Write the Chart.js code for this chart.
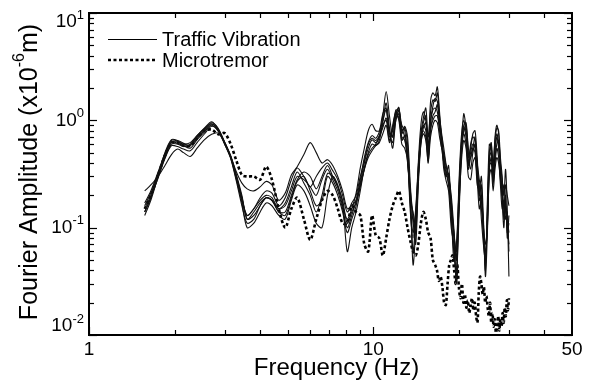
<!DOCTYPE html>
<html>
<head>
<meta charset="utf-8">
<title>Fourier Amplitude</title>
<script src="https://cdn.jsdelivr.net/npm/chart.js@4"></script>
<style>
  body { margin: 0; background: #fff; }
  canvas { display: block; }
</style>
</head>
<body>
<canvas id="chart" width="590" height="385"></canvas>
<script>
// 频率 (Hz) - Traffic Vibration
const freq = [
  1.57, 1.65, 1.75, 1.85, 1.95, 2.05, 2.15, 2.27, 2.4, 2.55,
  2.7, 2.85, 3.0, 3.15, 3.3, 3.45, 3.6, 3.8, 4.0, 4.2,
  4.4, 4.65, 4.9, 5.15, 5.4, 5.7, 6.0, 6.3, 6.6, 6.9,
  7.2, 7.5, 7.8, 8.1, 8.4, 8.7, 9.0, 9.3, 9.6, 9.9,
  10.2, 10.5, 10.8, 11.1, 11.4, 11.7, 12.0, 12.3, 12.6, 12.9,
  13.2, 13.5, 13.8, 14.1, 14.4, 14.7, 15.0, 15.3, 15.6, 15.9,
  16.2, 16.5, 16.8, 17.1, 17.4, 17.7, 18.0, 18.4, 18.8, 19.2,
  19.6, 20.0, 20.4, 20.8, 21.2, 21.6, 22.0, 22.4, 22.8, 23.2,
  23.6, 24.0, 24.4, 24.8, 25.2, 25.6, 26.0, 26.4, 26.8, 27.2,
  27.6, 28.0, 28.4, 28.8, 29.2, 29.6, 30.0
];

// 频率 (Hz) - Microtremor (高频部分更密)
const microFreq = [
  1.57, 1.65, 1.75, 1.85, 1.95, 2.05, 2.15, 2.27, 2.4, 2.55,
  2.7, 2.85, 3.0, 3.15, 3.3, 3.45, 3.6, 3.8, 4.0, 4.2,
  4.4, 4.65, 4.9, 5.15, 5.4, 5.7, 6.0, 6.3, 6.6, 6.9,
  7.2, 7.5, 7.8, 8.1, 8.4, 8.7, 9.0, 9.3, 9.6, 9.9,
  10.2, 10.5, 10.8, 11.1, 11.4, 11.7, 12.0, 12.3, 12.6, 12.9,
  13.2, 13.5, 13.8, 14.1, 14.4, 14.7, 15.0, 15.3, 15.6, 15.9,
  16.2, 16.5, 16.75, 17.0, 17.25, 17.5, 17.75, 18.0, 18.25, 18.5,
  18.75, 19.0, 19.25, 19.5, 19.75, 20.0, 20.25, 20.5, 20.75, 21.0,
  21.25, 21.5, 21.75, 22.0, 22.25, 22.5, 22.75, 23.0, 23.25, 23.5,
  23.75, 24.0, 24.25, 24.5, 24.75, 25.0, 25.25, 25.5, 25.75, 26.0,
  26.25, 26.5, 26.75, 27.0, 27.25, 27.5, 27.75, 28.0, 28.25, 28.5,
  28.75, 29.0, 29.25, 29.5, 29.75, 30.0
];

// Traffic Vibration 各次记录 (x10^-6 m)
const traffic1 = [
  .13, .18, .30, .48, .65, .64, .59, .60, .72, .85,
  .97, .82, .60, .44, .27, .16, .11, .12, .16, .19,
  .18, .14, .13, .19, .27, .30, .22, .16, .18, .30,
  .26, .20, .14, .09, .12, .16, .26, .40, .55, .66,
  .62, .70, 1.10, 1.85, 1.10, .70, 1.15, 1.30, .80, .85,
  .60, .20, .045, .10, .40, .90, 1.20, 1.00, .55, 1.50,
  1.80, 1.70, 2.05, 1.20, .65, .45, .30, .38, .15, .08,
  .03, .18, .55, 1.15, .85, .45, .55, .75, .80, .45,
  .22, .30, .12, .05, .12, .50, .62, .35, .70, .90,
  .75, .40, .28, .20, .35, .15, .035
];
const traffic2 = [
  .14, .19, .31, .50, .66, .65, .61, .58, .68, .82,
  .95, .84, .62, .45, .28, .17, .10, .11, .14, .17,
  .16, .13, .12, .18, .25, .22, .16, .11, .10, .20,
  .30, .25, .17, .06, .10, .14, .22, .36, .50, .60,
  .58, .65, .95, 1.45, .85, .55, 1.00, 1.25, .90, .80,
  .45, .14, .08, .14, .35, .75, 1.05, 1.30, .70, 1.20,
  1.55, 1.50, 1.80, 1.10, .75, .55, .40, .30, .20, .10,
  .05, .25, .70, 1.00, .75, .40, .60, .70, .65, .40,
  .28, .20, .10, .04, .18, .60, .55, .40, .65, .85,
  .80, .45, .30, .15, .25, .20, .16
];
const traffic3 = [
  .15, .20, .32, .47, .62, .63, .60, .62, .72, .84,
  .93, .80, .61, .46, .30, .19, .12, .14, .17, .19,
  .18, .15, .16, .22, .30, .28, .24, .20, .28, .35,
  .28, .22, .15, .10, .13, .18, .28, .45, .62, .72,
  .68, .78, 1.00, 1.25, .80, .70, 1.10, 1.32, .75, .88,
  .70, .25, .11, .09, .28, .70, .95, 1.10, .50, 1.00,
  1.35, 1.60, 1.50, 1.00, .70, .40, .33, .25, .12, .06,
  .04, .15, .50, .90, .95, .55, .45, .55, .70, .35,
  .20, .25, .08, .06, .10, .40, .60, .28, .55, .75,
  .60, .35, .20, .25, .18, .12, .09
];
const traffic4 = [
  .16, .21, .30, .45, .60, .60, .57, .59, .70, .80,
  .90, .79, .60, .45, .29, .18, .13, .15, .18, .20,
  .19, .15, .17, .24, .33, .26, .20, .14, .20, .32,
  .30, .24, .16, .12, .15, .21, .36, .55, .80, .92,
  .80, .80, 1.15, 1.30, .70, .80, 1.25, 1.20, .65, .72,
  .50, .18, .06, .12, .30, .65, .90, .80, .45, .95,
  1.25, 1.30, 1.20, .80, .55, .50, .38, .30, .18, .09,
  .06, .22, .60, .85, .70, .38, .50, .60, .55, .30,
  .25, .15, .09, .045, .15, .45, .50, .32, .50, .70,
  .55, .30, .22, .12, .15, .10, .07
];
const traffic5 = [
  .17, .22, .33, .49, .63, .61, .58, .55, .66, .78,
  .92, .82, .63, .47, .31, .20, .12, .13, .16, .19,
  .18, .14, .14, .20, .28, .33, .30, .23, .30, .38,
  .30, .24, .18, .11, .14, .17, .24, .35, .48, .55,
  .60, .70, .85, 1.05, .75, .62, 1.00, 1.15, .85, .70,
  .40, .22, .13, .07, .25, .60, .85, .95, .60, .80,
  1.10, 1.20, 1.40, .90, .60, .35, .28, .22, .10, .07,
  .035, .12, .45, .80, .90, .50, .35, .50, .60, .38,
  .18, .20, .11, .035, .09, .35, .45, .25, .45, .60,
  .65, .38, .18, .10, .20, .08, .13
];
const traffic6 = [
  .14, .19, .29, .44, .58, .57, .54, .52, .62, .75,
  .88, .80, .62, .46, .30, .19, .13, .15, .19, .22,
  .21, .16, .19, .28, .36, .30, .24, .30, .36, .40,
  .34, .28, .20, .14, .17, .20, .30, .42, .60, .68,
  .65, .72, .90, 1.00, .65, .90, 1.20, 1.05, .70, .65,
  .45, .16, .09, .15, .38, .70, .80, .70, .40, .85,
  1.00, 1.10, 1.10, .85, .70, .45, .35, .26, .14, .05,
  .07, .20, .55, .75, .60, .35, .45, .55, .50, .25,
  .22, .12, .07, .05, .13, .38, .40, .30, .40, .55,
  .45, .25, .15, .18, .12, .14, .06
];
const traffic7 = [
  .22, .25, .30, .38, .48, .54, .50, .46, .55, .66,
  .74, .76, .62, .46, .33, .26, .23, .22, .24, .27,
  .25, .18, .21, .31, .37, .48, .62, .50, .40, .43,
  .38, .30, .22, .15, .16, .18, .25, .35, .45, .52,
  .58, .62, .75, .90, .62, .85, 1.15, 1.00, .60, .55,
  .42, .18, .14, .10, .30, .60, .75, .65, .42, .70,
  .90, 1.00, .95, .70, .55, .40, .30, .32, .16, .09,
  .05, .15, .40, .65, .55, .30, .28, .40, .45, .28,
  .15, .18, .10, .07, .11, .30, .35, .22, .35, .45,
  .40, .28, .20, .13, .16, .09, .11
];

// Microtremor
const microtremor = [
  .15, .20, .31, .47, .62, .62, .58, .58, .68, .80,
  .82, .74, .76, .60, .42, .31, .30, .30, .28, .37,
  .28, .15, .10, .15, .19, .12, .077, .12, .18, .22,
  .20, .15, .11, .11, .16, .14, .13, .07, .06, .13,
  .085, .08, .055, .08, .12, .16, .19, .22, .17, .14,
  .10, .075, .06, .055, .07, .11, .14, .12, .09, .08,
  .05, .045, .04, .032, .035, .028, .02, .019, .03, .045,
  .05, .055, .04, .03, .045, .028, .022, .03, .02, .024,
  .018, .021, .016, .019, .022, .017, .02, .015, .013, .025,
  .035, .03, .024, .028, .02, .023, .018, .015, .02, .013,
  .016, .012, .014, .0105, .012, .015, .011, .014, .012, .016,
  .013, .018, .015, .021, .017, .022
];

const trafficRuns = [traffic1, traffic2, traffic3, traffic4, traffic5, traffic6, traffic7];

// 刻度
const xMajor = [1, 10];
const xMinor = [2, 3, 4, 5, 6, 7, 8, 9, 20, 30, 40];
const xLabels = [1, 10, 50];
const yMajor = [0.01, 0.1, 1, 10];
const yMinor = [
  0.02, 0.03, 0.04, 0.05, 0.06, 0.07, 0.08, 0.09,
  0.2, 0.3, 0.4, 0.5, 0.6, 0.7, 0.8, 0.9,
  2, 3, 4, 5, 6, 7, 8, 9
];
const yExponents = [-2, -1, 0, 1];

const FONT = '"Liberation Sans", Arial, Helvetica, sans-serif';

function toPoints(xs, values) {
  return xs.map((f, i) => ({ x: f, y: values[i] }));
}

const datasets = [];
datasets.push({
  label: 'Microtremor',
  data: toPoints(microFreq, microtremor),
  borderColor: '#000',
  borderWidth: 2.6,
  borderDash: [3, 2.5],
  pointRadius: 0,
  tension: 0.3,
  order: 2
});
trafficRuns.forEach((run, i) => {
  datasets.push({
    label: i === 0 ? 'Traffic Vibration' : 'Traffic Vibration ' + (i + 1),
    data: toPoints(freq, run),
    borderColor: '#111',
    borderWidth: 1.1,
    pointRadius: 0,
    tension: 0.3,
    order: 1
  });
});

// 画框、向内刻度、标签、图例和坐标轴标题
const framePlugin = {
  id: 'framePlugin',
  afterDraw(chart) {
    const ctx = chart.ctx;
    const a = chart.chartArea;
    const x = chart.scales.x;
    const y = chart.scales.y;

    ctx.save();
    ctx.strokeStyle = '#000';
    ctx.fillStyle = '#000';

    // 刻度
    ctx.lineWidth = 1.2;
    const tick = (x1, y1, x2, y2) => {
      ctx.beginPath();
      ctx.moveTo(x1, y1);
      ctx.lineTo(x2, y2);
      ctx.stroke();
    };
    xMajor.concat(xMinor).forEach((v) => {
      const px = Math.round(x.getPixelForValue(v)) + 0.5;
      const len = xMajor.includes(v) ? 8 : 5;
      tick(px, a.bottom, px, a.bottom - len);
      tick(px, a.top, px, a.top + len);
    });
    yMajor.concat(yMinor).forEach((v) => {
      const py = Math.round(y.getPixelForValue(v)) + 0.5;
      const len = yMajor.includes(v) ? 8 : 5;
      tick(a.left, py, a.left + len, py);
      tick(a.right, py, a.right - len, py);
    });

    // 边框
    ctx.lineWidth = 2;
    ctx.strokeRect(a.left, a.top, a.right - a.left, a.bottom - a.top);

    // x 轴标签
    ctx.font = '19px ' + FONT;
    ctx.textAlign = 'center';
    ctx.textBaseline = 'middle';
    xLabels.forEach((v) => {
      ctx.fillText(String(v), x.getPixelForValue(v), a.bottom + 15);
    });

    // y 轴标签 10^n
    yExponents.forEach((e) => {
      let py = y.getPixelForValue(Math.pow(10, e));
      py = Math.min(Math.max(py, a.top + 9), a.bottom - 9);
      const sup = String(e);
      ctx.font = '13px ' + FONT;
      ctx.textAlign = 'right';
      const supW = ctx.measureText(sup).width;
      ctx.fillText(sup, a.left - 5, py - 7);
      ctx.font = '19px ' + FONT;
      ctx.fillText('10', a.left - 5 - supW, py);
    });

    // x 轴标题
    ctx.font = '24px ' + FONT;
    ctx.textAlign = 'center';
    ctx.textBaseline = 'alphabetic';
    ctx.fillText('Frequency (Hz)', (a.left + a.right) / 2 + 6, 375);

    // y 轴标题 (带上标)
    ctx.save();
    ctx.translate(30, (a.top + a.bottom) / 2 - 2);
    ctx.rotate(-Math.PI / 2);
    const partA = 'Fourier Amplitude (x10';
    const partSup = '-6';
    const partB = 'm)';
    ctx.font = '25px ' + FONT;
    const wA = ctx.measureText(partA).width;
    const wB = ctx.measureText(partB).width;
    ctx.font = '16px ' + FONT;
    const wS = ctx.measureText(partSup).width;
    let cx = -(wA + wS + wB) / 2;
    ctx.textAlign = 'left';
    ctx.textBaseline = 'middle';
    ctx.font = '25px ' + FONT;
    ctx.fillText(partA, cx, 0);
    cx += wA;
    ctx.font = '16px ' + FONT;
    ctx.fillText(partSup, cx, -10);
    cx += wS;
    ctx.font = '25px ' + FONT;
    ctx.fillText(partB, cx, 0);
    ctx.restore();

    // 图例
    ctx.font = '20px ' + FONT;
    ctx.textAlign = 'left';
    ctx.textBaseline = 'middle';
    ctx.lineWidth = 1.1;
    ctx.setLineDash([]);
    tick(108, 39.5, 157, 39.5);
    ctx.fillText('Traffic Vibration', 162, 40);
    ctx.lineWidth = 2.6;
    ctx.setLineDash([3, 2.5]);
    tick(108, 60, 157, 60);
    ctx.setLineDash([]);
    ctx.fillText('Microtremor', 162, 61);

    ctx.restore();
  }
};

new Chart(document.getElementById('chart'), {
  type: 'line',
  data: { datasets: datasets },
  options: {
    responsive: false,
    animation: false,
    layout: { padding: { left: 89, right: 18, top: 13, bottom: 50 } },
    plugins: {
      legend: { display: false },
      tooltip: { enabled: false }
    },
    scales: {
      x: { type: 'logarithmic', min: 1, max: 50, display: false },
      y: { type: 'logarithmic', min: 0.01, max: 10, display: false }
    }
  },
  plugins: [framePlugin]
});
</script>
</body>
</html>
